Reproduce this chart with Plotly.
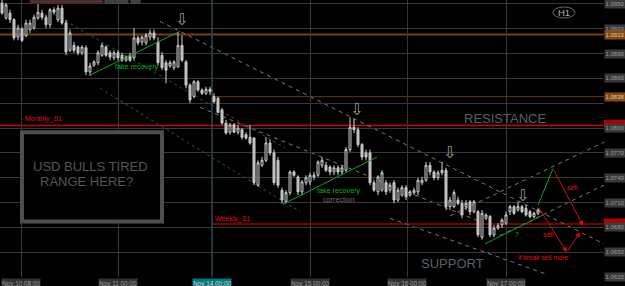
import plotly.graph_objects as go

# ---------------- data (EURUSD H1) ----------------
open_ = [1.0951,1.0933,1.0939,1.0931,1.0910,1.0920,1.0912,1.0919,1.0921,1.0933,
         1.0939,1.0934,1.0925,1.0943,1.0931,1.0945,1.0927,1.0894,1.0900,1.0898,
         1.0891,1.0897,1.0868,1.0876,1.0879,1.0888,1.0898,1.0891,1.0885,1.0891,
         1.0888,1.0882,1.0888,1.0885,1.0909,1.0904,1.0903,1.0910,1.0915,1.0904,
         1.0888,1.0879,1.0875,1.0873,1.0874,1.0900,1.0880,1.0852,1.0838,1.0856,
         1.0846,1.0842,1.0847,1.0838,1.0836,1.0822,1.0806,1.0795,1.0804,1.0795,
         1.0798,1.0792,1.0789,1.0788,1.0731,1.0755,1.0761,1.0782,1.0770,1.0761,
         1.0725,1.0711,1.0722,1.0747,1.0741,1.0723,1.0734,1.0735,1.0743,1.0743,
         1.0755,1.0755,1.0753,1.0747,1.0752,1.0747,1.0749,1.0774,1.0801,1.0798,
         1.0780,1.0770,1.0770,1.0734,1.0723,1.0725,1.0734,1.0725,1.0734,1.0713,
         1.0719,1.0728,1.0719,1.0722,1.0723,1.0734,1.0737,1.0755,1.0747,1.0740,
         1.0746,1.0749,1.0705,1.0705,1.0713,1.0709,1.0705,1.0711,1.0699,1.0699,
         1.0668,1.0691,1.0693,1.0671,1.0679,1.0683,1.0685,1.0699,1.0705,1.0701,
         1.0705,1.0703,1.0699,1.0693,1.0697]
close_ = [1.0939,1.0949,1.0931,1.0909,1.0921,1.0906,1.0927,1.0927,1.0934,1.0940,
          1.0934,1.0925,1.0943,1.0940,1.0945,1.0927,1.0892,1.0915,1.0894,1.0891,
          1.0898,1.0868,1.0875,1.0880,1.0891,1.0900,1.0888,1.0886,1.0891,1.0885,
          1.0882,1.0886,1.0882,1.0909,1.0903,1.0910,1.0912,1.0915,1.0909,1.0879,
          1.0873,1.0870,1.0879,1.0880,1.0900,1.0882,1.0852,1.0834,1.0856,1.0846,
          1.0842,1.0847,1.0844,1.0832,1.0819,1.0806,1.0794,1.0804,1.0795,1.0800,
          1.0789,1.0788,1.0782,1.0734,1.0758,1.0761,1.0782,1.0770,1.0734,1.0731,
          1.0713,1.0722,1.0747,1.0743,1.0723,1.0735,1.0740,1.0743,1.0741,1.0759,
          1.0761,1.0749,1.0747,1.0752,1.0747,1.0752,1.0774,1.0801,1.0798,1.0780,
          1.0765,1.0765,1.0734,1.0725,1.0741,1.0746,1.0723,1.0731,1.0713,1.0725,
          1.0728,1.0717,1.0723,1.0725,1.0737,1.0737,1.0755,1.0747,1.0740,1.0746,
          1.0749,1.0705,1.0713,1.0722,1.0709,1.0695,1.0709,1.0699,1.0711,1.0671,
          1.0697,1.0695,1.0671,1.0679,1.0682,1.0689,1.0695,1.0705,1.0697,1.0705,
          1.0699,1.0695,1.0693,1.0697,1.0701]
high_ = [1.0955,1.0951,1.0943,1.0933,1.0925,1.0922,1.0931,1.0931,1.0937,1.0950,
         1.0943,1.0937,1.0945,1.0946,1.0949,1.0949,1.0931,1.0919,1.0904,1.0900,
         1.0900,1.0900,1.0879,1.0882,1.0894,1.0903,1.0900,1.0894,1.0894,1.0894,
         1.0891,1.0888,1.0891,1.0921,1.0912,1.0912,1.0915,1.0919,1.0919,1.0910,
         1.0892,1.0882,1.0882,1.0882,1.0916,1.0912,1.0882,1.0854,1.0858,1.0858,
         1.0848,1.0850,1.0850,1.0842,1.0838,1.0824,1.0810,1.0806,1.0806,1.0804,
         1.0800,1.0795,1.0804,1.0789,1.0761,1.0765,1.0789,1.0786,1.0774,1.0765,
         1.0728,1.0725,1.0749,1.0749,1.0743,1.0737,1.0743,1.0746,1.0747,1.0761,
         1.0765,1.0759,1.0755,1.0755,1.0755,1.0755,1.0777,1.0813,1.0811,1.0801,
         1.0782,1.0774,1.0774,1.0737,1.0743,1.0749,1.0737,1.0734,1.0737,1.0728,
         1.0731,1.0731,1.0725,1.0728,1.0740,1.0741,1.0759,1.0759,1.0749,1.0749,
         1.0759,1.0752,1.0717,1.0725,1.0717,1.0713,1.0713,1.0713,1.0713,1.0701,
         1.0701,1.0697,1.0695,1.0683,1.0685,1.0691,1.0699,1.0707,1.0707,1.0711,
         1.0707,1.0707,1.0701,1.0699,1.0703]
low_ = [1.0937,1.0931,1.0927,1.0906,1.0906,1.0904,1.0910,1.0915,1.0919,1.0931,
        1.0931,1.0921,1.0921,1.0937,1.0928,1.0925,1.0888,1.0892,1.0891,1.0888,
        1.0888,1.0864,1.0863,1.0874,1.0876,1.0886,1.0886,1.0882,1.0882,1.0882,
        1.0880,1.0880,1.0880,1.0882,1.0900,1.0900,1.0900,1.0906,1.0906,1.0876,
        1.0870,1.0854,1.0873,1.0870,1.0873,1.0880,1.0848,1.0830,1.0836,1.0844,
        1.0840,1.0840,1.0840,1.0830,1.0818,1.0804,1.0792,1.0792,1.0794,1.0792,
        1.0786,1.0786,1.0780,1.0731,1.0729,1.0753,1.0759,1.0767,1.0731,1.0728,
        1.0709,1.0709,1.0719,1.0741,1.0719,1.0719,1.0731,1.0731,1.0737,1.0741,
        1.0752,1.0747,1.0743,1.0743,1.0743,1.0743,1.0747,1.0771,1.0794,1.0777,
        1.0761,1.0761,1.0731,1.0723,1.0719,1.0723,1.0719,1.0722,1.0709,1.0711,
        1.0717,1.0713,1.0717,1.0719,1.0719,1.0731,1.0735,1.0743,1.0737,1.0737,
        1.0743,1.0701,1.0701,1.0703,1.0707,1.0691,1.0701,1.0695,1.0697,1.0668,
        1.0665,1.0689,1.0668,1.0668,1.0677,1.0679,1.0683,1.0695,1.0695,1.0699,
        1.0697,1.0693,1.0691,1.0691,1.0695]
bars = list(range(len(open_)))

price_grid = [1.0950, 1.0920, 1.0890, 1.0860, 1.0830, 1.0800, 1.0770,
              1.0740, 1.0710, 1.0680, 1.0650, 1.0620]
price_labels = ["1.0950", "1.0920", "1.0890", "1.0860", "", "1.0800", "1.0770",
                "1.0740", "1.0710", "1.0680", "1.0650", "1.0620"]
time_bars = [4.75, 29, 52.5, 77, 101.25, 126]
time_labels = ["Nov 10 08:00", "Nov 11 00:00", "Nov 14 00:00",
               "Nov 15 00:00", "Nov 16 00:00", "Nov 17 00:00"]
separator_bar = 52.5

level_orange_1 = 1.0913
level_orange_2 = 1.0838
monthly_s1 = 1.0803
weekly_s1 = 1.0684

# trend lines: (bar0, price0, bar1, price1)
dashed_gray = [(39.5, 1.0929, 150.5, 1.0660),
               (49.5, 1.0825, 119.5, 1.0687),
               (97, 1.0691, 135.75, 1.0624),
               (112, 1.0694, 150.5, 1.0783),
               (124.5, 1.0670, 150.5, 1.0731)]
dashed_teal = [(13.25, 1.0937, 70.75, 1.0776),
               (24.5, 1.0848, 74.5, 1.0699)]
green_lines = [(22, 1.0864, 44.5, 1.0917),
               (70.25, 1.0708, 93.75, 1.0765),
               (120.75, 1.0660, 135.25, 1.0695),
               (134, 1.0707, 137.75, 1.0751)]
red_arrows = [(137.75, 1.0751, 145.25, 1.0682),
              (134, 1.0705, 141.25, 1.0650),
              (141.25, 1.0650, 144.5, 1.0674)]
down_marks = [(44.75, 1.0931), (88.5, 1.0823), (111.75, 1.0770), (130, 1.0718)]
note_box = (5, 1.0795, 40, 1.0687)

FONT = "Liberation Sans, Arial, sans-serif"
GRID = "#383838"
LABEL_HALF = 0.00048   # half height of a price-scale label box (about 4 px)

fig = go.Figure()
fig.add_trace(go.Candlestick(
    x=bars, open=open_, high=high_, low=low_, close=close_,
    increasing=dict(line=dict(color="#d0d0d0", width=1), fillcolor="#000000"),
    decreasing=dict(line=dict(color="#d0d0d0", width=1), fillcolor="#b4b4b4"),
    whiskerwidth=0, showlegend=False, hoverinfo="skip"))

shapes = []
shapes.append(dict(type="line", xref="paper", x0=0, x1=1, yref="y", y0=level_orange_1, y1=level_orange_1,
                   line=dict(color="#7a3e0c", width=2), layer="below"))
shapes.append(dict(type="line", xref="x", x0=separator_bar, x1=150.5, yref="y", y0=level_orange_2, y1=level_orange_2,
                   line=dict(color="#6a3508", width=1), layer="below"))
shapes.append(dict(type="line", xref="paper", x0=0, x1=1, yref="y", y0=monthly_s1, y1=monthly_s1,
                   line=dict(color="#d00000", width=1.5), layer="below"))
shapes.append(dict(type="line", xref="x", x0=separator_bar, x1=150.5, yref="y", y0=weekly_s1, y1=weekly_s1,
                   line=dict(color="#a00000", width=1.5), layer="below"))
shapes.append(dict(type="line", xref="x", x0=separator_bar, x1=separator_bar, yref="paper", y0=0, y1=1,
                   line=dict(color="#007a7a", width=1), layer="below"))
for (a, b, c, d) in dashed_gray:
    shapes.append(dict(type="line", x0=a, y0=b, x1=c, y1=d, xref="x", yref="y",
                       line=dict(color="#7a7a7a", width=1, dash="4px,4px"), layer="below"))
for (a, b, c, d) in dashed_teal:
    shapes.append(dict(type="line", x0=a, y0=b, x1=c, y1=d, xref="x", yref="y",
                       line=dict(color="#1e5a5a", width=1, dash="3px,3px"), layer="below"))
for (a, b, c, d) in green_lines:
    shapes.append(dict(type="line", x0=a, y0=b, x1=c, y1=d, xref="x", yref="y",
                       line=dict(color="#10a020", width=1)))
shapes.append(dict(type="rect", x0=note_box[0], y0=note_box[1], x1=note_box[2], y1=note_box[3],
                   xref="x", yref="y", line=dict(color="#4e4e4e", width=4), fillcolor="#000000"))
shapes.append(dict(type="circle", xref="paper", yref="paper", x0=553/604, x1=575/604,
                   y0=1-18/277, y1=1-7/277, line=dict(color="#6a6a6a", width=1)))
for (x0, x1, col) in [(30, 103, "#6a1010"), (105, 128, "#4a4a4a"), (131, 140, "#4a4a4a")]:
    shapes.append(dict(type="rect", xref="paper", yref="paper", x0=x0/604, x1=x1/604,
                       y0=1-3/277, y1=1.0, line=dict(color=col, width=1), fillcolor="#3c3c3c"))
# red level markers on the price scale, mostly hidden behind the grid labels
for p in [monthly_s1 + 0.0002, weekly_s1 + 0.0002]:
    shapes.append(dict(type="rect", xref="paper", yref="y", x0=1.0, x1=1 + 21/604,
                       y0=p - LABEL_HALF, y1=p + LABEL_HALF, line=dict(width=0), fillcolor="#b00000"))

ann = []
def txt(x, y, s, size, color, xanchor="center", family=FONT):
    ann.append(dict(x=x, y=y, xref="x", yref="y", text=s, showarrow=False, xanchor=xanchor,
                    yanchor="middle", font=dict(family=family, size=size, color=color)))

txt(33.75, 1.0874, "fake recovery", 7.2, "#10b020")
txt(84.25, 1.0725, "fake recovery", 7.2, "#10b020")
txt(84.25, 1.0714, "correction", 7.2, "#6a6a6a")
txt(5.25, 1.0811, "Monthly_S1", 7, "#e01010", xanchor="left")
txt(52.75, 1.0690, "Weekly_S1", 7, "#e01010", xanchor="left")
txt(125.75, 1.0812, "RESISTANCE", 13, "#59616a")
txt(112.5, 1.0636, "SUPPORT", 13, "#59616a")
txt(22, 1.0753, "USD BULLS TIRED", 13, "#565656")
txt(21, 1.0735, "RANGE HERE?", 13, "#565656")
txt(128.75, 1.0671, "?", 7, "#10b020")
txt(142.5, 1.0728, "sell", 7, "#e01010")
txt(136.5, 1.0671, "sell", 7, "#e01010")
txt(135.25, 1.0643, "if break sell more", 6.6, "#e01010")
for (bx, py) in down_marks:
    txt(bx, py, "⇩", 16, "#9a9a9a", family="DejaVu Sans")
for (a, b, c, d) in red_arrows:
    ann.append(dict(x=c, y=d, ax=a, ay=b, xref="x", yref="y", axref="x", ayref="y", text="",
                    showarrow=True, arrowhead=2, arrowsize=1, arrowwidth=1, arrowcolor="#d01010"))

ann.append(dict(x=564/604, y=1-12.5/277, xref="paper", yref="paper", text="H1", showarrow=False,
                xanchor="center", yanchor="middle",
                font=dict(family=FONT, size=9.5, color="#b0b0b0")))

for p, s in zip(price_grid, price_labels):
    if not s:
        continue
    ann.append(dict(x=1, y=p, xref="paper", yref="y", text=s, showarrow=False, xanchor="left",
                    yanchor="middle", width=20, height=8, borderpad=0, bgcolor="#3a3a3a",
                    font=dict(family=FONT, size=6, color="#9c9c9c")))
for p, bg in [(level_orange_1, "#8a4810"), (level_orange_2, "#8a4810")]:
    ann.append(dict(x=1, y=p, xref="paper", yref="y", text=f"{p:.4f}", showarrow=False, xanchor="left",
                    yanchor="middle", width=20, height=8, borderpad=0, bgcolor=bg,
                    font=dict(family=FONT, size=6, color="#c8c8c8")))
for b, s in zip(time_bars, time_labels):
    teal = s.startswith("Nov 14")
    ann.append(dict(x=b, y=0, xref="x", yref="paper", text=s, showarrow=False, xanchor="center",
                    yanchor="top", yshift=-1, height=8, borderpad=0,
                    bgcolor="#007a7a" if teal else "#333333",
                    font=dict(family=FONT, size=6.4, color="#cfcfcf" if teal else "#9a9a9a")))

fig.update_layout(
    width=625, height=286, margin=dict(l=0, r=21, t=0, b=9),
    paper_bgcolor="#000000", plot_bgcolor="#000000",
    shapes=shapes, annotations=ann, showlegend=False,
    xaxis=dict(range=[-0.5, 150.5], tickvals=time_bars, showticklabels=False, showgrid=True,
               gridcolor=GRID, gridwidth=1, zeroline=False, rangeslider=dict(visible=False),
               showline=False, fixedrange=True),
    yaxis=dict(range=[1.06200, 1.09548], tickvals=price_grid, showticklabels=False, showgrid=True,
               gridcolor=GRID, gridwidth=1, zeroline=False, showline=False, fixedrange=True),
)
fig.write_html("out.html", config={"displayModeBar": False})
